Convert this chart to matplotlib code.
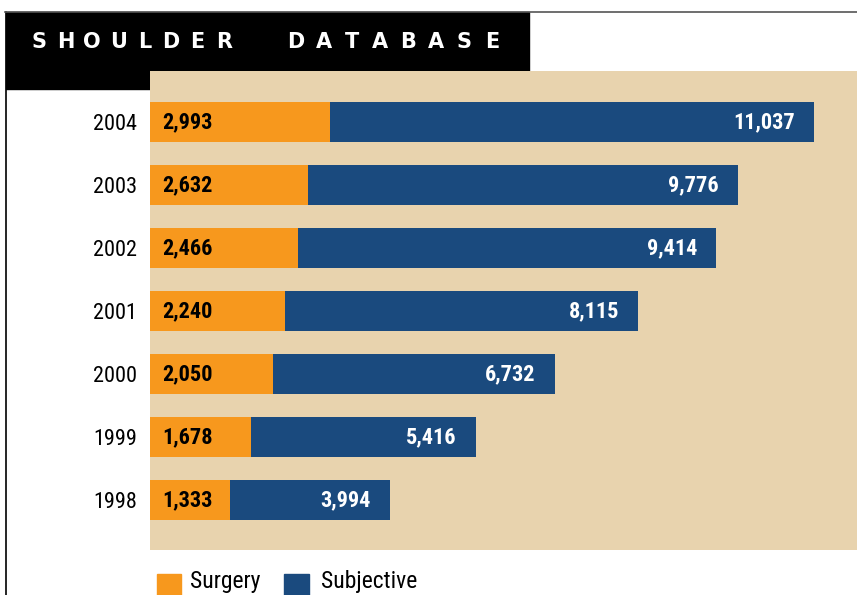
import matplotlib.pyplot as plt
from matplotlib.patches import Rectangle
from matplotlib.lines import Line2D

years = ['1998', '1999', '2000', '2001', '2002', '2003', '2004']
surgery = [1333, 1678, 2050, 2240, 2466, 2632, 2993]
subjective = [3994, 5416, 6732, 8115, 9414, 9776, 11037]

orange = '#F7981D'
blue = '#1A4A7E'
tan = '#E8D3AE'
narrow = ['Roboto Condensed', 'DejaVu Sans']

W, H = 857, 595
fig = plt.figure(figsize=(W / 100, H / 100), dpi=100)


def fx(x):
    return x / W


def fy(y):
    return 1 - y / H


# frame lines + black header box
fig.add_artist(Line2D([fx(5.5), fx(5.5)], [fy(12), fy(595)], color='black', lw=1.2))
fig.add_artist(Line2D([fx(5), fx(857)], [fy(12), fy(12)], color='#555555', lw=1.2))
fig.add_artist(Rectangle((fx(6), fy(89)), fx(523), 77 / H, color='black', zorder=1))

# spaced-out title, one letter at a time
for word, x0, step in [('SHOULDER', 39, 26.4), ('DATABASE', 296, 28.0)]:
    for i, ch in enumerate(word):
        fig.text(fx(x0 + i * step), fy(42), ch, color='white', fontsize=15,
                 fontweight='bold', ha='center', va='center', zorder=3)

# bar panel
ax = fig.add_axes([fx(150), fy(550), fx(707), 479 / H], zorder=2)
ax.set_facecolor(tan)
ypos = list(range(len(years)))
ax.barh(ypos, subjective, height=0.635, color=blue)
ax.barh(ypos, surgery, height=0.635, color=orange)
ax.set_xlim(0, 11752)
ax.set_ylim(-0.794, 6.81)
for s in ax.spines.values():
    s.set_visible(False)
ax.set_xticks([])
ax.set_yticks(ypos)
ax.set_yticklabels(years, family=narrow, stretch='condensed', fontsize=16)
ax.tick_params(axis='y', length=0, pad=9.5)

for y, a, b in zip(ypos, surgery, subjective):
    ax.text(200, y, '{:,}'.format(a), ha='left', va='center', fontsize=16,
            fontweight='bold', family=narrow, stretch='condensed', color='black')
    ax.text(b - 320, y, '{:,}'.format(b), ha='right', va='center', fontsize=16,
            fontweight='bold', family=narrow, stretch='condensed', color='white')

# legend
fig.add_artist(Rectangle((fx(157), fy(596)), fx(24), 22 / H, color=orange))
fig.text(fx(190), fy(588), 'Surgery', family=narrow, stretch='condensed',
         fontsize=17, va='baseline')
fig.add_artist(Rectangle((fx(284), fy(596)), fx(25), 22 / H, color=blue))
fig.text(fx(321), fy(588), 'Subjective', family=narrow, stretch='condensed',
         fontsize=17, va='baseline')

plt.savefig('out.png', dpi=100)
